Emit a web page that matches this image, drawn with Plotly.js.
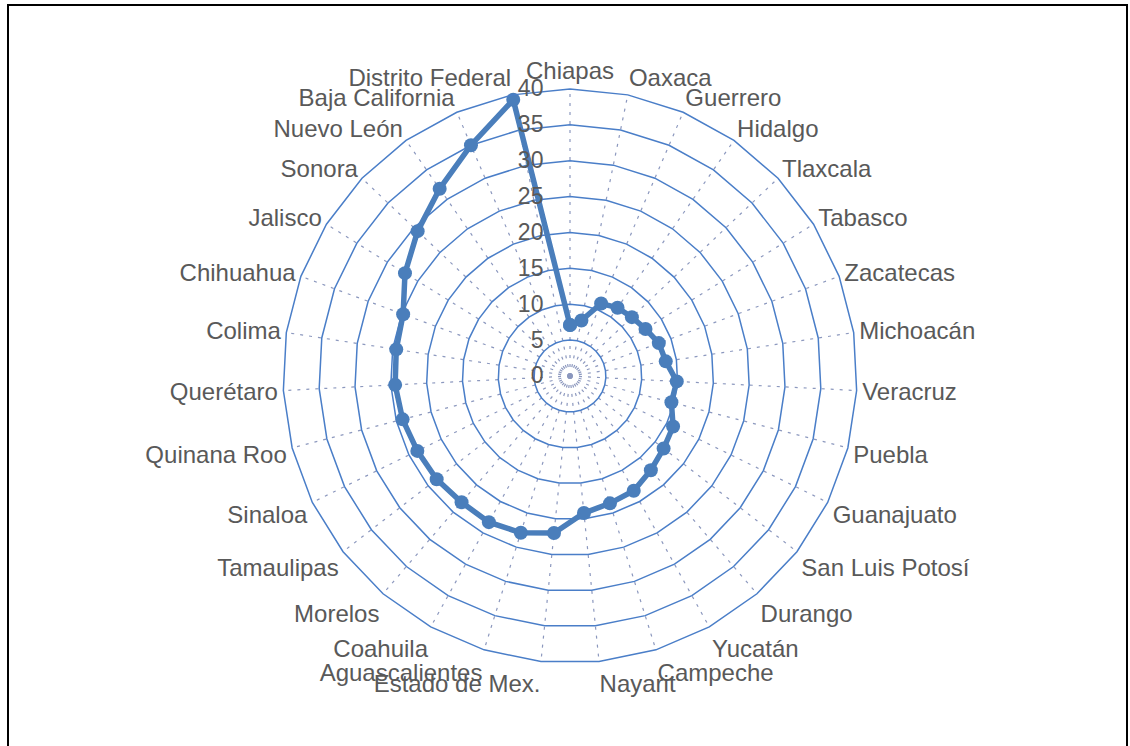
<!DOCTYPE html>
<html>
<head>
<meta charset="utf-8">
<script src="https://cdn.plot.ly/plotly-3.0.1.min.js"></script>
<style>
  html, body { margin: 0; padding: 0; background: #ffffff; }
  #chart { width: 1130px; height: 746px; }
</style>
</head>
<body>
<div id="chart"></div>
<script>
const estados = [
  "Chiapas", "Oaxaca", "Guerrero", "Hidalgo", "Tlaxcala", "Tabasco", "Zacatecas",
  "Michoacán", "Veracruz", "Puebla", "Guanajuato", "San Luis Potosí", "Durango",
  "Yucatán", "Campeche", "Nayarit", "Estado de Mex.", "Aguascalientes", "Coahuila",
  "Morelos", "Tamaulipas", "Sinaloa", "Quinana Roo", "Querétaro", "Colima",
  "Chihuahua", "Jalisco", "Sonora", "Nuevo León", "Baja California", "Distrito Federal"
];
const valores = [
  7.1, 7.9, 11.0, 11.6, 11.9, 12.4, 13.2,
  13.5, 14.9, 14.6, 16.0, 16.5, 17.3,
  18.3, 18.6, 19.2, 22.0, 22.9, 23.3,
  23.2, 23.5, 23.7, 24.1, 24.4, 24.5,
  24.8, 27.1, 29.3, 31.8, 35.0, 39.3
];
const radialTicks = [0, 5, 10, 15, 20, 25, 30, 35, 40];

const W = 1130, H = 746;
const cx = 570, cy = 376, R = 287;

const trace = {
  type: 'scatterpolar',
  mode: 'lines+markers',
  r: valores.concat([valores[0]]),
  theta: estados.concat([estados[0]]),
  line: { color: '#4A7EBB', width: 5.5 },
  marker: { color: '#4A7EBB', size: 14 },
  hoverinfo: 'r+theta',
  showlegend: false
};

const layout = {
  width: W, height: H,
  margin: { l: 0, r: 0, t: 0, b: 0 },
  paper_bgcolor: '#ffffff',
  plot_bgcolor: '#ffffff',
  font: { family: 'Liberation Sans, Arial, sans-serif', size: 24, color: '#595959' },
  polar: {
    domain: {
      x: [(cx - R) / W, (cx + R) / W],
      y: [(H - cy - R) / H, (H - cy + R) / H]
    },
    bgcolor: '#ffffff',
    gridshape: 'linear',
    radialaxis: {
      range: [0, 40],
      tickvals: radialTicks,
      ticktext: radialTicks.map(String),
      angle: 90,
      side: 'counterclockwise',
      showline: false,
      ticks: 'outside',
      ticklen: 18,
      tickcolor: 'rgba(0,0,0,0)',
      tickangle: 90,
      tickfont: { family: 'Liberation Sans, Arial, sans-serif', size: 23, color: '#595959' },
      gridcolor: '#4A7EC8',
      gridwidth: 1.5
    },
    angularaxis: {
      type: 'category',
      categoryarray: estados,
      rotation: 90,
      direction: 'clockwise',
      showline: true,
      linecolor: '#4A7EC8',
      linewidth: 1.5,
      ticks: '',
      gridcolor: '#8C98BE',
      gridwidth: 1.2,
      griddash: '3px,6px',
      tickfont: { family: 'Liberation Sans, Arial, sans-serif', size: 24, color: '#595959' }
    }
  },
  shapes: [{
    type: 'rect', xref: 'paper', yref: 'paper',
    x0: 8 / W, x1: 1127 / W, y0: -0.05, y1: (H - 5) / H,
    line: { color: '#000000', width: 2 }, fillcolor: 'rgba(0,0,0,0)'
  }]
};

Plotly.newPlot('chart', [trace], layout, { displayModeBar: false, staticPlot: true });
</script>
</body>
</html>
